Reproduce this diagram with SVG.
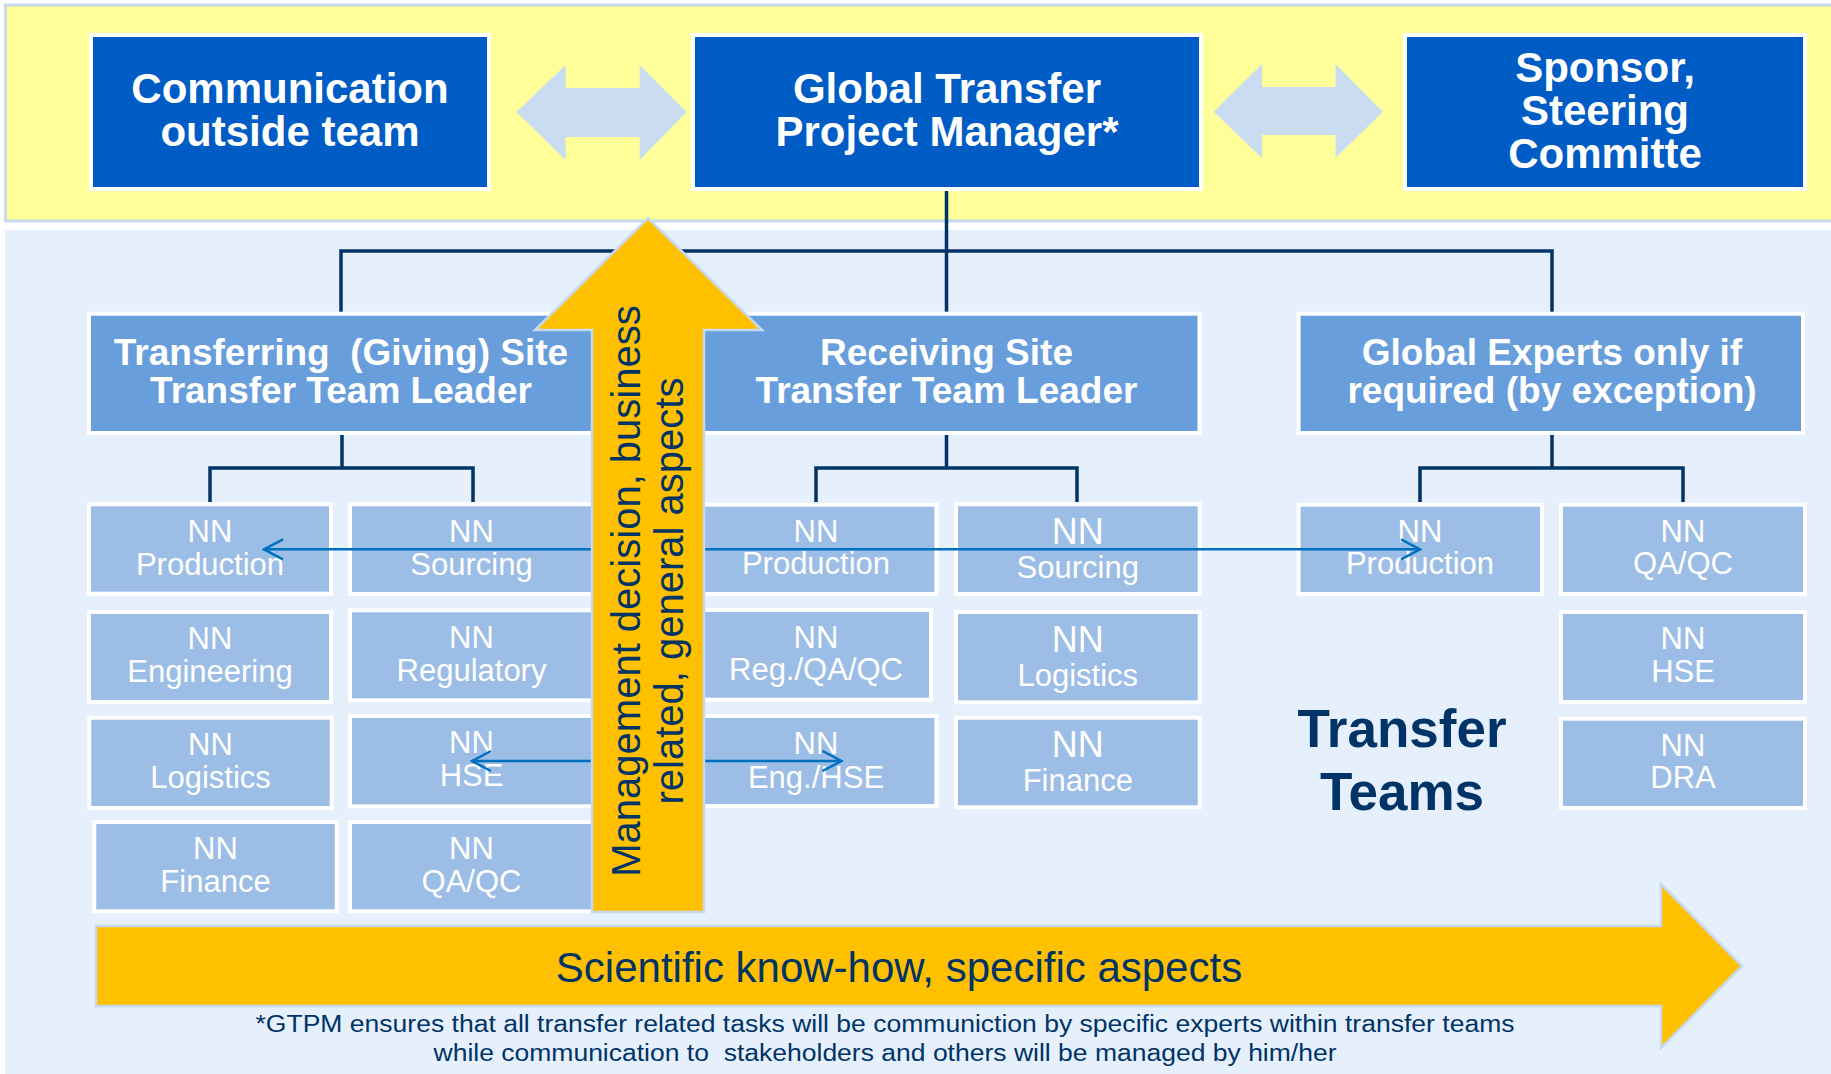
<svg xmlns="http://www.w3.org/2000/svg" width="1831" height="1074" viewBox="0 0 1831 1074">
<defs>
<style>
.band{fill:#ffff99;stroke:#c8daee;stroke-width:3}
.panel{fill:#e5f0fc}
.top{fill:#005cc5;stroke:#ffffff;stroke-width:4}
.tl{fill:#679edb;stroke:#ffffff;stroke-width:4}
.nnbox{fill:#9bbde6;stroke:#ffffff;stroke-width:4}
.dbl{fill:#c9dcf2}
.org{fill:none;stroke:#003366;stroke-width:3.5}
.thin{fill:none;stroke:#0070c0;stroke-width:2.5}
.yarrow{fill:#ffc000;stroke:#c6d9f0;stroke-width:2.5}
.t42{font-family:"Liberation Sans",Arial,sans-serif;font-weight:bold;font-size:42px;fill:#ffffff;text-anchor:middle}
.t37{font-family:"Liberation Sans",Arial,sans-serif;font-weight:bold;font-size:37px;fill:#ffffff;text-anchor:middle}
.nn{font-family:"Liberation Sans",Arial,sans-serif;font-size:31px;fill:#ffffff;text-anchor:middle}
.nnb{font-family:"Liberation Sans",Arial,sans-serif;font-size:36px;fill:#ffffff;text-anchor:middle}
.dark{font-family:"Liberation Sans",Arial,sans-serif;fill:#003366;text-anchor:middle}
</style>
<marker id="chev" viewBox="-22 -12 24 24" markerWidth="24" markerHeight="24" refX="0" refY="0" markerUnits="userSpaceOnUse" orient="auto-start-reverse">
<path d="M-19,-10 L0,0 L-19,10" fill="none" stroke="#0070c0" stroke-width="2.5"/>
</marker>
</defs>
<rect x="0" y="0" width="1831" height="1074" fill="#ffffff"/>
<rect class="band" x="5.5" y="5" width="1830" height="216"/>
<rect class="panel" x="5" y="230" width="1826" height="844"/>

<g id="connectors">
<polygon class="dbl" points="516.5,112 565.6,65 565.6,88 639.7,88 639.7,65 686.6,112 639.7,160 639.7,137 565.6,137 565.6,160"/>
<polygon class="dbl" points="1213.7,111.7 1262,64 1262,87 1335.5,87 1335.5,64 1383,111.7 1335.5,158 1335.5,135 1262,135 1262,158"/>
<path class="org" d="M946.5,191 V312"/>
<path class="org" d="M341,312 V251 H1552 V312"/>
<path class="org" d="M342,435 V468 M210,502 V468 H473 V502"/>
<path class="org" d="M946.5,435 V468 M816,502 V468 H1077 V502"/>
<path class="org" d="M1552,435 V468 M1420,502 V468 H1683 V502"/>
</g>

<g id="comm">
<rect class="top" x="91" y="35" width="398" height="154"/>
<text class="t42" x="290" y="103">Communication</text>
<text class="t42" x="290" y="146">outside team</text>
</g>
<g id="gtpm">
<rect class="top" x="693" y="35" width="508" height="154"/>
<text class="t42" x="947" y="103">Global Transfer</text>
<text class="t42" x="947" y="146">Project Manager*</text>
</g>
<g id="sponsor">
<rect class="top" x="1405" y="35" width="400" height="154"/>
<text class="t42" x="1605" y="82">Sponsor,</text>
<text class="t42" x="1605" y="125">Steering</text>
<text class="t42" x="1605" y="168">Committe</text>
</g>

<g id="giving-tl">
<rect class="tl" x="89" y="313.7" width="504" height="119.3"/>
<text class="t37" x="341" y="365" xml:space="preserve">Transferring  (Giving) Site</text>
<text class="t37" x="341" y="403">Transfer Team Leader</text>
</g>
<g id="receiving-tl">
<rect class="tl" x="694" y="313.7" width="505.5" height="119.3"/>
<text class="t37" x="946.5" y="365">Receiving Site</text>
<text class="t37" x="946.5" y="403">Transfer Team Leader</text>
</g>
<g id="experts-tl">
<rect class="tl" x="1298.6" y="313.7" width="504.4" height="119.3"/>
<text class="t37" x="1552" y="365">Global Experts only if</text>
<text class="t37" x="1552" y="403">required (by exception)</text>
</g>

<g id="g-production">
<rect class="nnbox" x="89" y="504.3" width="242" height="89.4"/>
<text class="nn" x="210" y="541.7">NN</text><text class="nn" x="210" y="575">Production</text>
</g>
<g id="g-engineering">
<rect class="nnbox" x="89" y="612" width="242" height="90"/>
<text class="nn" x="210" y="649">NN</text><text class="nn" x="210" y="682.3">Engineering</text>
</g>
<g id="g-logistics">
<rect class="nnbox" x="89.3" y="717.7" width="242.4" height="90.3"/>
<text class="nn" x="210.5" y="755">NN</text><text class="nn" x="210.5" y="787.7">Logistics</text>
</g>
<g id="g-finance">
<rect class="nnbox" x="94.3" y="822" width="242.4" height="89.3"/>
<text class="nn" x="215.5" y="859">NN</text><text class="nn" x="215.5" y="892.3">Finance</text>
</g>
<g id="g-sourcing">
<rect class="nnbox" x="350" y="504.3" width="243" height="89.7"/>
<text class="nn" x="471.5" y="541.7">NN</text><text class="nn" x="471.5" y="575">Sourcing</text>
</g>
<g id="g-regulatory">
<rect class="nnbox" x="350" y="610.3" width="243" height="90"/>
<text class="nn" x="471.5" y="647.7">NN</text><text class="nn" x="471.5" y="680.7">Regulatory</text>
</g>
<g id="g-hse">
<rect class="nnbox" x="350" y="716" width="243" height="90.3"/>
<text class="nn" x="471.5" y="753.3">NN</text><text class="nn" x="471.5" y="786">HSE</text>
</g>
<g id="g-qaqc">
<rect class="nnbox" x="350" y="822" width="243" height="89.3"/>
<text class="nn" x="471.5" y="859">NN</text><text class="nn" x="471.5" y="892.3">QA/QC</text>
</g>

<g id="r-production">
<rect class="nnbox" x="695" y="504.7" width="241.4" height="89.3"/>
<text class="nn" x="816" y="541.7">NN</text><text class="nn" x="816" y="574">Production</text>
</g>
<g id="r-regqaqc">
<rect class="nnbox" x="700" y="610" width="231" height="89.7"/>
<text class="nn" x="816" y="647.7">NN</text><text class="nn" x="816" y="680">Reg./QA/QC</text>
</g>
<g id="r-enghse">
<rect class="nnbox" x="695" y="716" width="241.4" height="90"/>
<text class="nn" x="816" y="754">NN</text><text class="nn" x="816" y="788">Eng./HSE</text>
</g>
<g id="r-sourcing">
<rect class="nnbox" x="956" y="504.3" width="243.7" height="89.7"/>
<text class="nnb" x="1077.8" y="544.3">NN</text><text class="nn" x="1077.8" y="577.7">Sourcing</text>
</g>
<g id="r-logistics">
<rect class="nnbox" x="956" y="612" width="243.7" height="90.3"/>
<text class="nnb" x="1077.8" y="651.7">NN</text><text class="nn" x="1077.8" y="685.7">Logistics</text>
</g>
<g id="r-finance">
<rect class="nnbox" x="956" y="717.7" width="243.7" height="89.6"/>
<text class="nnb" x="1077.8" y="756.7">NN</text><text class="nn" x="1077.8" y="791">Finance</text>
</g>

<g id="e-production">
<rect class="nnbox" x="1298.6" y="504.7" width="243.4" height="89.3"/>
<text class="nn" x="1420" y="541.7">NN</text><text class="nn" x="1420" y="574">Production</text>
</g>
<g id="e-qaqc">
<rect class="nnbox" x="1561" y="504.7" width="244" height="89.3"/>
<text class="nn" x="1683" y="541.7">NN</text><text class="nn" x="1683" y="574">QA/QC</text>
</g>
<g id="e-hse">
<rect class="nnbox" x="1561" y="612" width="244" height="90"/>
<text class="nn" x="1683" y="649.3">NN</text><text class="nn" x="1683" y="682.3">HSE</text>
</g>
<g id="e-dra">
<rect class="nnbox" x="1561" y="718.7" width="244" height="89.3"/>
<text class="nn" x="1683" y="755.5">NN</text><text class="nn" x="1683" y="788">DRA</text>
</g>

<g id="exchange-arrows">
<path class="thin" d="M264,549.3 H1420" marker-start="url(#chev)" marker-end="url(#chev)"/>
<path class="thin" d="M472,761 H841.5" marker-start="url(#chev)" marker-end="url(#chev)"/>
</g>

<g id="transfer-teams">
<text class="dark" x="1402" y="746.7" font-size="53" font-weight="bold">Transfer</text>
<text class="dark" x="1402" y="810" font-size="53" font-weight="bold">Teams</text>
</g>

<g id="management-arrow">
<polygon class="yarrow" points="648,218 762,330 704,330 704,912 592,912 592,330 535,330"/>
<text class="dark" font-size="40" transform="translate(640,591) rotate(-90)">Management decision, business</text>
<text class="dark" font-size="40" transform="translate(683,591) rotate(-90)">related, general aspects</text>
</g>

<g id="scientific-arrow">
<polygon class="yarrow" points="96,926 1661,926 1661,884 1742,966 1661,1048 1661,1006 96,1006"/>
<text class="dark" x="899" y="982" font-size="42">Scientific know-how, specific aspects</text>
</g>

<g id="footnote">
<text class="dark" x="885" y="1032" font-size="23" textLength="1259" lengthAdjust="spacingAndGlyphs">*GTPM ensures that all transfer related tasks will be communiction by specific experts within transfer teams</text>
<text class="dark" x="885" y="1061" font-size="23" textLength="903" lengthAdjust="spacingAndGlyphs" xml:space="preserve">while communication to  stakeholders and others will be managed by him/her</text>
</g>
</svg>
